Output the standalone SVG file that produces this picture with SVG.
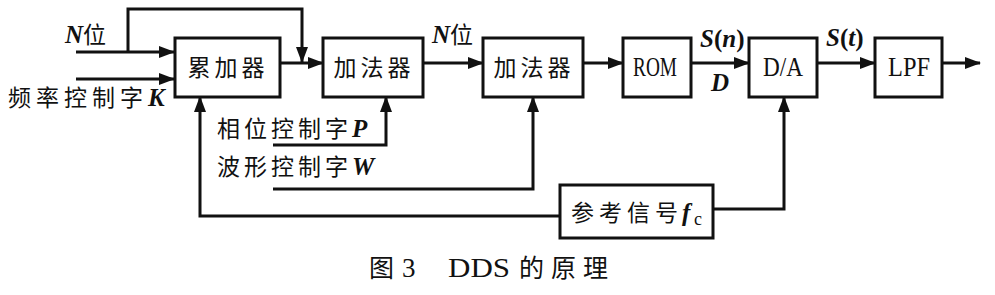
<svg xmlns="http://www.w3.org/2000/svg" width="995" height="295" viewBox="0 0 995 295">
<style>
.box{fill:#fff;stroke:#111;stroke-width:3}
.ln{fill:none;stroke:#111;stroke-width:3}
.cj{font-family:"Noto Sans CJK SC","Liberation Serif",serif;font-size:23px;fill:#111}
.it{font-family:"Liberation Serif",serif;font-style:italic;font-weight:bold;font-size:25px;fill:#111}
.rm{font-family:"Liberation Serif",serif;font-size:25px;fill:#111}
.bx{font-family:"Liberation Serif",serif;font-size:27px;fill:#111}
.cap{font-family:"Noto Sans CJK SC","Liberation Serif",serif;font-size:25px;fill:#111}
.capr{font-family:"Liberation Serif",serif;font-size:27px;fill:#111}
</style>
<defs>
<marker id="ah" markerUnits="userSpaceOnUse" markerWidth="16" markerHeight="12" refX="15" refY="6" orient="auto">
<path d="M0,0 L16,6 L0,12 Z" fill="#111"/>
</marker>
</defs>
<rect width="995" height="295" fill="#fff"/>
<g id="connectors">
<path class="ln" d="M76,52 H174" marker-end="url(#ah)"/>
<path class="ln" d="M128,52 V9 H302 V62" marker-end="url(#ah)"/>
<path class="ln" d="M76,79 H174" marker-end="url(#ah)"/>
<path class="ln" d="M280,63 H323" marker-end="url(#ah)"/>
<path class="ln" d="M423,63 H483" marker-end="url(#ah)"/>
<path class="ln" d="M583,63 H623" marker-end="url(#ah)"/>
<path class="ln" d="M691,63 H749" marker-end="url(#ah)"/>
<path class="ln" d="M817,63 H875" marker-end="url(#ah)"/>
<path class="ln" d="M942,63 H980" marker-end="url(#ah)"/>
<path class="ln" d="M273,145 H386 V97" marker-end="url(#ah)"/>
<path class="ln" d="M273,189 H533 V97" marker-end="url(#ah)"/>
<path class="ln" d="M560,216 H200 V97" marker-end="url(#ah)"/>
<path class="ln" d="M713,209 H784 V97" marker-end="url(#ah)"/>
</g>
<g id="acc">
<rect class="box" x="175" y="38" width="105" height="59"/>
<text class="cj" x="228" y="76" text-anchor="middle" letter-spacing="4">累加器</text>
</g>
<g id="add1">
<rect class="box" x="323" y="38" width="100" height="59"/>
<text class="cj" x="374" y="76" text-anchor="middle" letter-spacing="4">加法器</text>
</g>
<g id="add2">
<rect class="box" x="483" y="38" width="100" height="59"/>
<text class="cj" x="534" y="76" text-anchor="middle" letter-spacing="4">加法器</text>
</g>
<g id="rom">
<rect class="box" x="623" y="38" width="68" height="59"/>
<text class="bx" x="633" y="76" textLength="44" lengthAdjust="spacingAndGlyphs">ROM</text>
</g>
<g id="da">
<rect class="box" x="749" y="38" width="68" height="59"/>
<text class="bx" x="763" y="76" textLength="40" lengthAdjust="spacingAndGlyphs">D/A</text>
</g>
<g id="lpf">
<rect class="box" x="875" y="38" width="67" height="59"/>
<text class="bx" x="888" y="76" textLength="42" lengthAdjust="spacingAndGlyphs">LPF</text>
</g>
<g id="ref">
<rect class="box" x="560" y="185" width="153" height="53"/>
<text class="cj" x="571" y="221" letter-spacing="5">参考信号</text>
<text class="it" x="682" y="221" style="font-size:25px">f</text>
<text class="rm" x="694" y="225" style="font-size:18px">c</text>
</g>
<g id="labels">
<text x="65" y="43"><tspan class="it">N</tspan><tspan class="cj">位</tspan></text>
<text class="cj" x="8" y="106" letter-spacing="5">频率控制字<tspan class="it" letter-spacing="0">K</tspan></text>
<text class="cj" x="217" y="137" letter-spacing="4">相位控制字<tspan class="it" letter-spacing="0">P</tspan></text>
<text class="cj" x="217" y="175" letter-spacing="4">波形控制字<tspan class="it" letter-spacing="0">W</tspan></text>
<text x="432" y="43"><tspan class="it">N</tspan><tspan class="cj">位</tspan></text>
<text class="it" x="700" y="47">S<tspan class="rm" font-weight="bold" font-style="normal">(</tspan>n<tspan class="rm" font-weight="bold" font-style="normal">)</tspan></text>
<text class="it" x="711" y="91">D</text>
<text class="it" x="826" y="46">S<tspan class="rm" font-weight="bold" font-style="normal">(</tspan>t<tspan class="rm" font-weight="bold" font-style="normal">)</tspan></text>
</g>
<g id="caption">
<text class="cap" x="369" y="277">图</text>
<text class="capr" x="402" y="277">3</text>
<text class="capr" x="448" y="277" textLength="62" lengthAdjust="spacingAndGlyphs">DDS</text>
<text class="cap" x="519" y="277" letter-spacing="7">的原理</text>
</g>
</svg>
